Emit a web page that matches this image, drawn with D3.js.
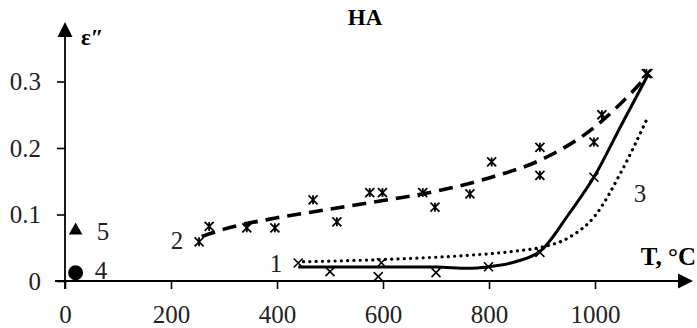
<!DOCTYPE html>
<html>
<head>
<meta charset="utf-8">
<script src="https://cdn.jsdelivr.net/npm/d3@7"></script>
<style>
  body { margin: 0; background: #fff; }
</style>
</head>
<body>
<svg id="chart" width="697" height="328"></svg>
<script>
var width = 697;
var height = 328;
var serif = "'Liberation Serif', 'Times New Roman', Times, 'DejaVu Serif', serif";

// measured points, curve 1 (crosses)
var s1T = [440, 500, 597, 591, 700, 799, 896, 998, 1100];
var s1E = [0.027, 0.014, 0.0275, 0.0065, 0.0125, 0.0215, 0.043, 0.156, 0.312];

// measured points, curve 2 (stars)
var s2T = [253, 272, 343, 396, 468, 513, 575, 599, 675, 698, 764, 805, 896, 896, 998, 1013, 1097];
var s2E = [0.059, 0.082, 0.080, 0.080, 0.122, 0.089, 0.133, 0.133, 0.133, 0.111, 0.131, 0.179, 0.201, 0.159, 0.209, 0.25, 0.312];

// trend lines
var l1T = [440, 600, 700, 760, 800, 850, 900, 950, 1000, 1050, 1100];
var l1E = [0.021, 0.021, 0.021, 0.019, 0.0215, 0.029, 0.047, 0.1, 0.159, 0.235, 0.31];

var l2T = [258, 300, 400, 500, 600, 700, 800, 900, 1000, 1050, 1100];
var l2E = [0.067, 0.078, 0.095, 0.108, 0.121, 0.135, 0.155, 0.183, 0.232, 0.268, 0.31];

var l3T = [450, 550, 650, 750, 850, 900, 950, 1000, 1050, 1100];
var l3E = [0.029, 0.031, 0.034, 0.038, 0.045, 0.051, 0.065, 0.098, 0.165, 0.247];

// single points at room temperature
var ptT = [20, 20];
var ptE = [0.076, 0.0125];
var ptShape = ['triangle', 'circle'];

var xTicks = [0, 200, 400, 600, 800, 1000];
var yTicks = [0, 0.1, 0.2, 0.3];

var svg = d3.select('#chart');

var x = d3.scaleLinear().domain([0, 1000]).range([65, 595]);
var y = d3.scaleLinear().domain([0, 0.3]).range([281, 81.5]);

// axes
svg.append('g')
  .attr('transform', 'translate(0,' + y(0) + ')')
  .call(d3.axisBottom(x).tickValues(xTicks).tickSize(8).tickPadding(16).tickFormat(d3.format('d')))
  .call(function(g) {
    g.attr('font-family', null).attr('font-size', null);
    g.select('.domain').remove();
    g.selectAll('line').attr('stroke-width', 1.6);
    g.selectAll('text').style('font-family', serif).style('font-size', '25px').attr('fill', '#222');
  });

svg.append('g')
  .attr('transform', 'translate(' + x(0) + ',0)')
  .call(d3.axisLeft(y).tickValues(yTicks).tickSize(8).tickPadding(16).tickFormat(function(d) { return d === 0 ? '0' : d3.format('.1f')(d); }))
  .call(function(g) {
    g.attr('font-family', null).attr('font-size', null);
    g.select('.domain').remove();
    g.selectAll('line').attr('stroke-width', 1.6);
    g.selectAll('text').style('font-family', serif).style('font-size', '25px').attr('fill', '#222');
  });

// axis lines with arrows
svg.append('line').attr('x1', 55).attr('x2', 682).attr('y1', y(0)).attr('y2', y(0))
  .attr('stroke', '#000').attr('stroke-width', 1.8);
svg.append('path').attr('d', 'M693,' + y(0) + ' L678,' + (y(0) - 7.5) + ' L678,' + (y(0) + 7.5) + 'Z');
svg.append('line').attr('x1', x(0)).attr('x2', x(0)).attr('y1', 289).attr('y2', 34)
  .attr('stroke', '#000').attr('stroke-width', 1.8);
svg.append('path').attr('d', 'M' + x(0) + ',22 L' + (x(0) - 7.5) + ',37 L' + (x(0) + 7.5) + ',37Z');

// trend lines
var line = d3.line().curve(d3.curveMonotoneX)
  .x(function(d) { return x(d[0]); })
  .y(function(d) { return y(d[1]); });

svg.append('path').datum(d3.zip(l3T, l3E)).attr('d', line)
  .attr('fill', 'none').attr('stroke', '#000').attr('stroke-width', 3.2)
  .attr('stroke-linecap', 'round').attr('stroke-dasharray', '0.1 6.2');
svg.append('path').datum(d3.zip(l2T, l2E)).attr('d', line)
  .attr('fill', 'none').attr('stroke', '#000').attr('stroke-width', 3.6)
  .attr('stroke-dasharray', '14 8');
svg.append('path').datum(d3.zip(l1T, l1E)).attr('d', line)
  .attr('fill', 'none').attr('stroke', '#000').attr('stroke-width', 3);

// markers
var m = 4.5;
var cross = 'M' + (-m) + ',' + (-m) + 'L' + m + ',' + m + 'M' + (-m) + ',' + m + 'L' + m + ',' + (-m);
var star = cross + 'M0,' + (-m) + 'L0,' + m;

svg.append('g').selectAll('path').data(d3.zip(s1T, s1E)).enter().append('path')
  .attr('transform', function(d) { return 'translate(' + x(d[0]) + ',' + y(d[1]) + ')'; })
  .attr('d', cross).attr('fill', 'none').attr('stroke', '#000').attr('stroke-width', 1.6);

svg.append('g').selectAll('path').data(d3.zip(s2T, s2E)).enter().append('path')
  .attr('transform', function(d) { return 'translate(' + x(d[0]) + ',' + y(d[1]) + ')'; })
  .attr('d', star).attr('fill', 'none').attr('stroke', '#000').attr('stroke-width', 1.8);

svg.append('g').selectAll('path').data(d3.zip(ptT, ptE, ptShape)).enter().append('path')
  .attr('transform', function(d) { return 'translate(' + x(d[0]) + ',' + y(d[1]) + ')'; })
  .attr('d', function(d) {
    return d[2] === 'triangle'
      ? d3.symbol().type(d3.symbolTriangle).size(80)()
      : d3.symbol().type(d3.symbolCircle).size(175)();
  })
  .attr('fill', '#000');

// curve labels
var labels = [
  { t: '1', tx: 276, ty: 272 },
  { t: '2', tx: 177, ty: 249 },
  { t: '3', tx: 640, ty: 202 },
  { t: '5', tx: 103, ty: 240 },
  { t: '4', tx: 101, ty: 279 }
];
svg.append('g').selectAll('text').data(labels).enter().append('text')
  .attr('x', function(d) { return d.tx; }).attr('y', function(d) { return d.ty; })
  .attr('text-anchor', 'middle').style('font-family', serif).style('font-size', '25px')
  .attr('fill', '#222').text(function(d) { return d.t; });

// titles
svg.append('text').attr('x', 365).attr('y', 25).attr('text-anchor', 'middle')
  .style('font-family', serif).style('font-size', '23px').attr('font-weight', 'bold').text('HA');
svg.append('text').attr('x', 81).attr('y', 45)
  .style('font-family', serif).style('font-size', '23px').attr('font-weight', 'bold').text('ε″');
svg.append('text').attr('x', 696).attr('y', 265).attr('text-anchor', 'end')
  .style('font-family', serif).style('font-size', '25px').attr('font-weight', 'bold').text('T, °C');
</script>
</body>
</html>
